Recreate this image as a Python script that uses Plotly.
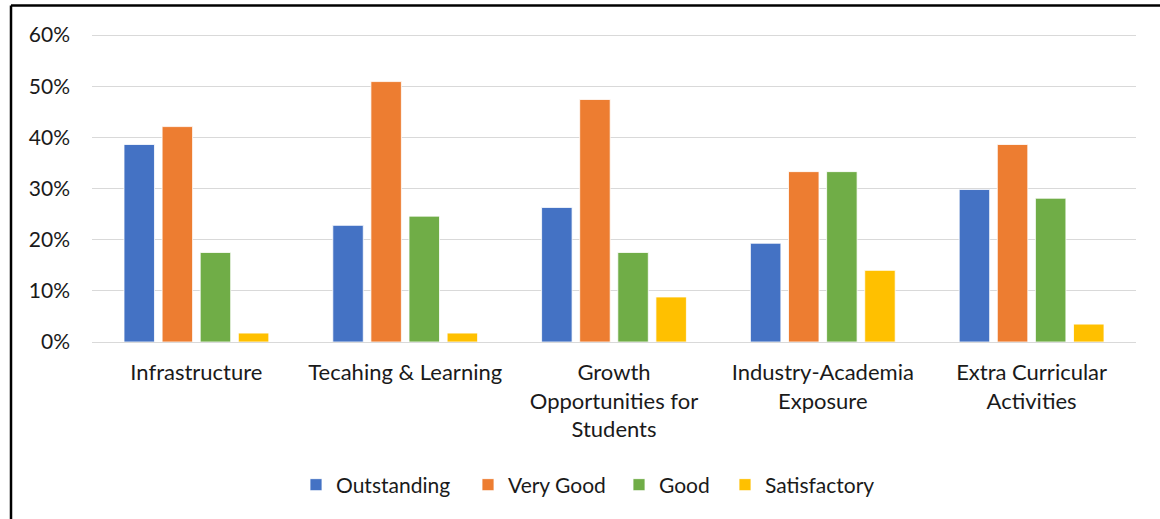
import plotly.graph_objects as go

categories = [
    "Infrastructure",
    "Tecahing & Learning",
    "Growth<br>Opportunities for<br>Students",
    "Industry-Academia<br>Exposure",
    "Extra Curricular<br>Activities",
]
outstanding = [0.386, 0.228, 0.263, 0.193, 0.298]
very_good = [0.421, 0.509, 0.474, 0.333, 0.386]
good = [0.175, 0.246, 0.175, 0.333, 0.281]
satisfactory = [0.0175, 0.0175, 0.088, 0.140, 0.035]
y_ticks = [0, 0.1, 0.2, 0.3, 0.4, 0.5, 0.6]
y_tick_labels = ["0%", "10%", "20%", "30%", "40%", "50%", "60%"]

series = [
    ("Outstanding", outstanding, "#4472C4"),
    ("Very Good", very_good, "#ED7D31"),
    ("Good", good, "#70AD47"),
    ("Satisfactory", satisfactory, "#FFC000"),
]
# pixel x of legend square centres (layout only)
legend_px = [316, 488, 639, 745]

W, H = 1160, 519
L, R, T, B = 92, 24, 34, 177
PW, PH = W - L - R, H - T - B
YMAX = 0.602

def px_x(px):
    return (px - L) / PW

def px_y(py):
    return (H - B - py) / PH

FONT = "Lato, Carlito, Calibri, sans-serif"
TXT = "#1a1a1a"

fig = go.Figure()
legend_layouts = {}
for i, (name, vals, color) in enumerate(series):
    lname = "legend" if i == 0 else f"legend{i+1}"
    fig.add_trace(go.Bar(
        name=name, x=categories, y=vals,
        marker=dict(color=color, line=dict(color="white", width=0.8)),
        legend=lname,
    ))
    legend_layouts[lname] = dict(
        orientation="h", x=px_x(legend_px[i] - 20), xanchor="left",
        y=px_y(485), yanchor="middle",
        font=dict(family=FONT, size=21, color=TXT),
        itemwidth=30, bgcolor="rgba(0,0,0,0)", borderwidth=0,
    )

fig.update_layout(
    width=W, height=H,
    margin=dict(l=L, r=R, t=T, b=B),
    paper_bgcolor="white", plot_bgcolor="white",
    barmode="group", bargap=0.27, bargroupgap=0.2,
    font=dict(family=FONT, size=22, color=TXT),
    showlegend=True,
    **legend_layouts,
    xaxis=dict(
        showgrid=False, showline=False, zeroline=False,
        tickfont=dict(family=FONT, size=22, color=TXT),
        ticklabelstandoff=15,
    ),
    yaxis=dict(
        range=[0, YMAX], tickvals=y_ticks, ticktext=y_tick_labels,
        showgrid=True, gridcolor="#D9D9D9", gridwidth=1.3,
        zeroline=True, zerolinecolor="#D9D9D9", zerolinewidth=1.3,
        showline=False,
        tickfont=dict(family=FONT, size=21, color=TXT),
        ticklabelstandoff=21,
    ),
    shapes=[
        dict(type="line", xref="paper", yref="paper",
             x0=px_x(11), x1=px_x(1175), y0=px_y(5.5), y1=px_y(5.5),
             line=dict(color="black", width=2.5)),
        dict(type="line", xref="paper", yref="paper",
             x0=px_x(11), x1=px_x(11), y0=px_y(5.5), y1=px_y(530),
             line=dict(color="black", width=2.5)),
    ],
)

fig.write_html(
    "out.html",
    config={"displayModeBar": False},
    post_script="document.body.style.margin='0px';",
)
